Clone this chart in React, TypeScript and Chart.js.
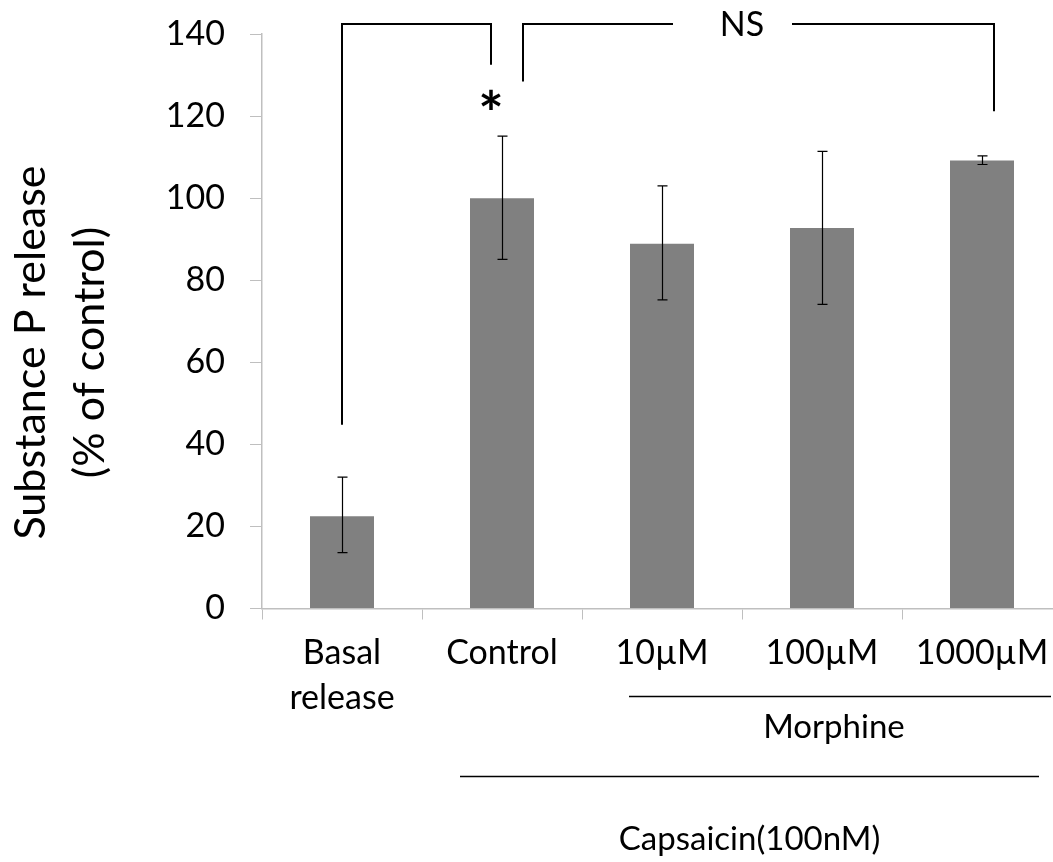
import React, { useEffect, useRef } from "react";
import { Chart, registerables } from "chart.js";

Chart.register(...registerables);

const categories: (string | string[])[] = [["Basal", "release"], "Control", "10µM", "100µM", "1000µM"];
const means = [22.5, 100, 88.9, 92.7, 109.2];
const errLow = [13.6, 85.1, 75.2, 74.1, 108.2];
const errHigh = [32.0, 115.1, 103.0, 111.4, 110.3];
const yTicks = [0, 20, 40, 60, 80, 100, 120, 140];

// significance brackets (category index, leg bottom value)
const bracketTop = 142.4;
const sigLeftLegs = [
  { cat: 0, bottom: 44.8 },
  { cat: 1, bottom: 132.5 },
];
const nsLegs = [
  { cat: 1, bottom: 128.4 },
  { cat: 4, bottom: 121.2 },
];
const starValue = 124;

const FONT = "Lato, 'Open Sans', sans-serif";

export default function App() {
  const ref = useRef<HTMLCanvasElement | null>(null);

  useEffect(() => {
    const canvas = ref.current;
    if (!canvas) return;

    const annot = {
      id: "annot",
      afterDatasetsDraw(chart: any) {
        const ctx = chart.ctx;
        const xs = chart.scales.x;
        const ys = chart.scales.y;
        ctx.save();
        ctx.strokeStyle = "#000";
        ctx.lineWidth = 1.2;
        for (let i = 0; i < means.length; i++) {
          const x = Math.round(xs.getPixelForValue(i)) + 0.5;
          const y1 = ys.getPixelForValue(errHigh[i]);
          const y2 = ys.getPixelForValue(errLow[i]);
          ctx.beginPath();
          ctx.moveTo(x, y1);
          ctx.lineTo(x, y2);
          ctx.moveTo(x - 5, y1);
          ctx.lineTo(x + 5, y1);
          ctx.moveTo(x - 5, y2);
          ctx.lineTo(x + 5, y2);
          ctx.stroke();
        }
        ctx.restore();
      },
      afterDraw(chart: any) {
        const ctx = chart.ctx;
        const xs = chart.scales.x;
        const ys = chart.scales.y;
        const area = chart.chartArea;
        ctx.save();
        ctx.strokeStyle = "#000";
        ctx.lineWidth = 2;
        const yTop = Math.round(ys.getPixelForValue(bracketTop));
        // "*" bracket
        const l0 = xs.getPixelForValue(sigLeftLegs[0].cat);
        const l1 = xs.getPixelForValue(sigLeftLegs[1].cat) - 11;
        ctx.beginPath();
        ctx.moveTo(l0, ys.getPixelForValue(sigLeftLegs[0].bottom));
        ctx.lineTo(l0, yTop);
        ctx.lineTo(l1, yTop);
        ctx.lineTo(l1, ys.getPixelForValue(sigLeftLegs[1].bottom));
        ctx.stroke();
        // NS bracket
        const r0 = xs.getPixelForValue(nsLegs[0].cat) + 21;
        const r1 = xs.getPixelForValue(nsLegs[1].cat) + 12;
        const nsX = 742;
        ctx.beginPath();
        ctx.moveTo(r0, ys.getPixelForValue(nsLegs[0].bottom));
        ctx.lineTo(r0, yTop);
        ctx.lineTo(nsX - 69, yTop);
        ctx.moveTo(nsX + 50, yTop);
        ctx.lineTo(r1, yTop);
        ctx.lineTo(r1, ys.getPixelForValue(nsLegs[1].bottom));
        ctx.stroke();

        ctx.fillStyle = "#000";
        ctx.textAlign = "center";
        ctx.textBaseline = "middle";
        ctx.font = `34px ${FONT}`;
        ctx.fillText("NS", nsX, yTop + 1);
        // asterisk, centred on its own ink box
        ctx.font = `bold 60px ${FONT}`;
        ctx.textBaseline = "alphabetic";
        const m = ctx.measureText("*");
        const inkMid = (m.actualBoundingBoxAscent - m.actualBoundingBoxDescent) / 2;
        ctx.fillText("*", l1, ys.getPixelForValue(starValue) + inkMid);

        // group lines
        const b = area.bottom;
        ctx.lineWidth = 1.5;
        const m0 = xs.getPixelForValue(2) - 33;
        const m1 = xs.getPixelForValue(4) + 69;
        const c0 = xs.getPixelForValue(1) - 42;
        const c1 = xs.getPixelForValue(4) + 57;
        ctx.beginPath();
        ctx.moveTo(m0, b + 88);
        ctx.lineTo(m1, b + 88);
        ctx.moveTo(c0, b + 168);
        ctx.lineTo(c1, b + 168);
        ctx.stroke();
        ctx.font = `33px ${FONT}`;
        ctx.fillText("Morphine", (m0 + m1) / 2 - 6, b + 129);
        ctx.fillText("Capsaicin(100nM)", (c0 + c1) / 2, b + 241);

        // y title
        ctx.font = `43px ${FONT}`;
        ctx.textBaseline = "middle";
        const cy = area.bottom - 256;
        ctx.translate(31, cy);
        ctx.rotate(-Math.PI / 2);
        ctx.fillText("Substance P release", 0, 0);
        ctx.fillText("(% of control)", 0, 59);
        ctx.restore();
      },
    };

    const chart = new Chart(canvas, {
      type: "bar",
      data: {
        labels: categories,
        datasets: [
          {
            data: means,
            backgroundColor: "#808080",
            borderWidth: 0,
            barPercentage: 0.4,
            categoryPercentage: 1,
          },
        ],
      },
      options: {
        animation: false,
        responsive: false,
        layout: { padding: { top: 34, left: 0, right: 13, bottom: 0 } },
        plugins: { legend: { display: false }, tooltip: { enabled: false } },
        scales: {
          x: {
            afterFit(scale: any) {
              scale.height = 862 - 608.5;
            },
            border: { color: "#bfbfbf", width: 1.5 },
            grid: {
              drawOnChartArea: false,
              drawTicks: true,
              tickLength: 11,
              color: "#bfbfbf",
              offset: true,
            },
            ticks: {
              color: "#000",
              font: { family: FONT, size: 34, lineHeight: 1.32 },
              padding: 11,
              maxRotation: 0,
              autoSkip: false,
            },
          },
          y: {
            min: 0,
            max: 140,
            afterFit(scale: any) {
              scale.width = 262;
              scale.paddingTop = 0;
              scale.paddingBottom = 0;
            },
            afterBuildTicks(scale: any) {
              scale.ticks = yTicks.map((v) => ({ value: v }));
            },
            border: { color: "#bfbfbf", width: 1.5 },
            grid: {
              drawOnChartArea: false,
              drawTicks: true,
              tickLength: 12,
              color: "#bfbfbf",
            },
            ticks: {
              color: "#000",
              font: { family: FONT, size: 34 },
              padding: 25,
            },
          },
        },
      },
      plugins: [annot],
    });
    return () => chart.destroy();
  }, []);

  return (
    <div style={{ position: "absolute", left: 0, top: 0, width: 1053, height: 862, overflow: "hidden", background: "#fff" }}>
      <canvas ref={ref} width={1075} height={862} style={{ width: 1075, height: 862, display: "block" }} />
    </div>
  );
}
